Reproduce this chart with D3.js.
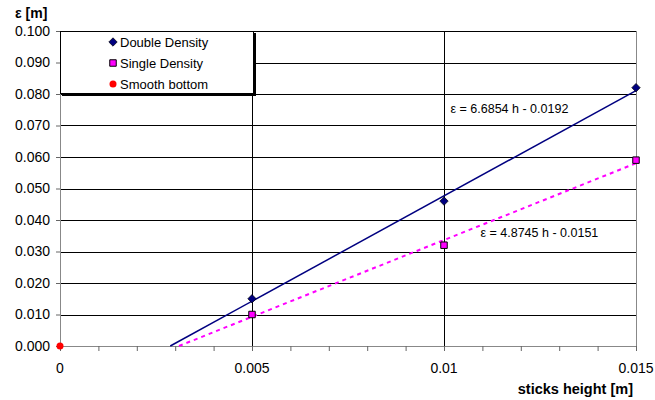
<!DOCTYPE html>
<html>
<head>
<meta charset="utf-8">
<script src="https://cdn.jsdelivr.net/npm/d3@7"></script>
<style>
  body { margin: 0; background: #fff; }
  svg { font-family: "Liberation Sans", Arial, sans-serif; }
</style>
</head>
<body>
<div id="chart"></div>
<script>
// data
const doubleDensity = [[0.005, 0.015], [0.01, 0.046], [0.015, 0.082]];
const singleDensity = [[0.005, 0.010], [0.01, 0.032], [0.015, 0.059]];
const smoothBottom = [[0, 0]];
const trendDouble = { slope: 6.6854, intercept: -0.0192, label: "ε = 6.6854 h - 0.0192" };
const trendSingle = { slope: 4.8745, intercept: -0.0151, label: "ε = 4.8745 h - 0.0151" };
const xTicks = [0, 0.005, 0.01, 0.015];
const xTickLabels = ["0", "0.005", "0.01", "0.015"];
const yTicks = d3.range(0, 0.1001, 0.01);
const legendNames = ["Double Density", "Single Density", "Smooth bottom"];

const width = 655, height = 400;
const margin = { top: 31, right: 19, bottom: 54, left: 60 };
const innerW = 636 - margin.left, innerH = 346 - margin.top;

const svg = d3.select("#chart").append("svg")
  .attr("width", width).attr("height", height);

const g = svg.append("g").attr("transform", `translate(${margin.left},${margin.top})`);

const x = d3.scaleLinear().domain([0, 0.015]).range([0, innerW]);
const y = d3.scaleLinear().domain([0, 0.1]).range([innerH, 0]);

// horizontal gridlines
g.selectAll("line.hgrid").data(yTicks.slice(1)).join("line")
  .attr("class", "hgrid")
  .attr("x1", 0).attr("x2", innerW)
  .attr("y1", d => Math.round(y(d)) + 0.5).attr("y2", d => Math.round(y(d)) + 0.5)
  .attr("stroke", "#000").attr("stroke-width", 1);

// vertical gridlines
g.selectAll("line.vgrid").data(xTicks.slice(1, 3)).join("line")
  .attr("class", "vgrid")
  .attr("x1", d => Math.round(x(d)) + 0.5).attr("x2", d => Math.round(x(d)) + 0.5)
  .attr("y1", 0).attr("y2", innerH)
  .attr("stroke", "#000");
g.append("line")
  .attr("x1", innerW + 0.5).attr("x2", innerW + 0.5)
  .attr("y1", 0).attr("y2", innerH)
  .attr("stroke", "#888");

// axes
const xAxis = d3.axisBottom(x)
  .tickValues(d3.range(0, 0.01501, 0.001))
  .tickSize(5).tickFormat("");
const gx = g.append("g").attr("transform", `translate(0,${innerH})`).call(xAxis);
gx.select(".domain").attr("stroke", "#888");
gx.selectAll(".tick line").attr("stroke", "#666");

g.selectAll("text.xlab").data(xTicks).join("text")
  .attr("class", "xlab")
  .attr("x", d => x(d)).attr("y", innerH + 27)
  .attr("text-anchor", "middle")
  .attr("font-size", 14)
  .text((d, i) => xTickLabels[i]);

const yAxis = d3.axisLeft(y).tickValues(yTicks).tickSize(4)
  .tickFormat(d3.format(".3f")).tickPadding(6);
const gy = g.append("g").call(yAxis);
gy.select(".domain").attr("stroke", "#888");
gy.selectAll(".tick line").attr("stroke", "#666");
gy.selectAll(".tick text").attr("font-size", 14).attr("fill", "#000")
  .attr("font-family", "Liberation Sans, Arial, sans-serif");

// trendlines
function trendPoints(t) {
  const x0 = -t.intercept / t.slope;
  return [[x0, 0], [0.015, t.slope * 0.015 + t.intercept]];
}
const line = d3.line().x(d => x(d[0])).y(d => y(d[1]));
g.append("path").attr("d", line(trendPoints(trendDouble)))
  .attr("fill", "none").attr("stroke", "#000080").attr("stroke-width", 1.5);
g.append("path").attr("d", line(trendPoints(trendSingle)))
  .attr("fill", "none").attr("stroke", "#ff00ff").attr("stroke-width", 2)
  .attr("stroke-dasharray", "4,4");

// markers
const diamond = d3.symbol().type(d3.symbolDiamond2).size(45);
const square = d3.symbol().type(d3.symbolSquare).size(42);

g.selectAll("path.dd").data(doubleDensity).join("path")
  .attr("class", "dd")
  .attr("transform", d => `translate(${x(d[0])},${y(d[1])})`)
  .attr("d", diamond).attr("fill", "#000080").attr("stroke", "#000").attr("stroke-width", 0.7);

g.selectAll("path.sd").data(singleDensity).join("path")
  .attr("class", "sd")
  .attr("transform", d => `translate(${x(d[0])},${y(d[1])})`)
  .attr("d", square).attr("fill", "#ff00ff").attr("stroke", "#000").attr("stroke-width", 1);

g.selectAll("circle.sb").data(smoothBottom).join("circle")
  .attr("class", "sb")
  .attr("cx", d => x(d[0])).attr("cy", d => y(d[1]))
  .attr("r", 3.5).attr("fill", "#ff0000");

// equation labels
g.append("text").attr("x", x(0.01017)).attr("y", y(0.0739))
  .attr("font-size", 12.5).text(trendDouble.label);
g.append("text").attr("x", x(0.01095)).attr("y", y(0.0346))
  .attr("font-size", 12.5).text(trendSingle.label);

// legend
const lg = g.append("g");
lg.append("rect").attr("x", 2).attr("y", 2).attr("width", 194).attr("height", 63)
  .attr("fill", "#000");
lg.append("rect").attr("x", 0.5).attr("y", 0.5).attr("width", 193).attr("height", 62)
  .attr("fill", "#fff").attr("stroke", "#000");
const legendMarks = [
  s => s.append("path").attr("d", diamond).attr("fill", "#000080").attr("stroke", "#000").attr("stroke-width", 0.7),
  s => s.append("path").attr("d", square).attr("fill", "#ff00ff").attr("stroke", "#000"),
  s => s.append("circle").attr("r", 3.5).attr("fill", "#ff0000")
];
legendNames.forEach((name, i) => {
  const row = lg.append("g").attr("transform", `translate(53,${11 + i * 21})`);
  legendMarks[i](row);
  row.append("text").attr("x", 7).attr("y", 4.5).attr("font-size", 13).text(name);
});

// axis titles
svg.append("text").attr("x", 15).attr("y", 18)
  .attr("font-size", 14).attr("font-weight", "bold").text("ε [m]");
svg.append("text").attr("x", 633).attr("y", 394)
  .attr("text-anchor", "end").attr("font-size", 14.5).attr("font-weight", "bold")
  .text("sticks height [m]");
</script>
</body>
</html>
